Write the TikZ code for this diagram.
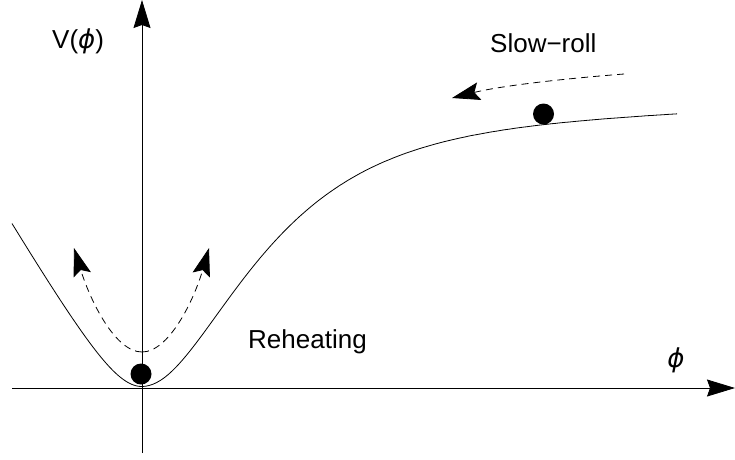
\documentclass[tikz,border=0pt]{standalone}
\usepackage{fontspec}
\setmainfont{Liberation Sans}
\newfontfamily\dvsans{DejaVu Sans}
\usetikzlibrary{arrows.meta}
\tikzset{
  axisline/.style={line width=0.8pt, -{Stealth[length=28pt,width=17pt,inset=3pt]}},
  potline/.style={line width=0.8pt},
  dasharrow/.style={line width=0.8pt, dash pattern=on 7pt off 5pt, -{Stealth[length=28pt,width=18pt,inset=5pt]}},
  ball/.style={circle, fill=black, inner sep=0pt, minimum size=21pt},
  lbl/.style={font=\fontsize{26}{31}\selectfont, inner sep=0pt},
}
\newcommand{\myphi}{{\dvsans\itshape ϕ}}
\begin{document}
\begin{tikzpicture}[x=1pt,y=-1pt]
\useasboundingbox (0,0) rectangle (735,459);
% axes
\coordinate (xs) at (12,388);
\coordinate (xe) at (735,388);
\coordinate (ys) at (142,453);
\coordinate (ye) at (142,0);
\draw[axisline] (xs) -- (xe);
\draw[axisline] (ys) -- (ye);
% potential
\draw[potline]
  plot[domain=-130:0, samples=80, smooth] ({142+\x}, {386.5 - 17*(sqrt((\x/10)*(\x/10)+16.16)-4.02)})
  -- plot[domain=0.5:535, samples=150, smooth] ({142+\x}, {386.5 - (250*(1-exp(-\x/88.9))^2.3 + 0.045*\x)});
% balls
\node[ball] (b1) at (141,374) {};
\node[ball] (b2) at (543.5,114) {};
% dashed arrows
\coordinate (d0) at (142,352);
\coordinate (dl) at (74,248);
\coordinate (dr) at (209,248);
\coordinate (s0) at (624,74);
\coordinate (s1) at (452,98);
\draw[dasharrow] (d0) .. controls (115,352) and (90,300) .. (dl);
\draw[dasharrow] (d0) .. controls (169,352) and (194,300) .. (dr);
\draw[dasharrow] (s0) .. controls (560,79) and (500,86) .. (s1);
% labels
\node[lbl, anchor=base west] (vl) at (52,48) {V(\myphi)};
\node[lbl, anchor=center] (pl) at (676,360) {\myphi};
\node[lbl, anchor=base west] (sr) at (490,52) {Slow−roll};
\node[lbl, anchor=base west] (rh) at (248,348) {Reheating};
\end{tikzpicture}
\end{document}
